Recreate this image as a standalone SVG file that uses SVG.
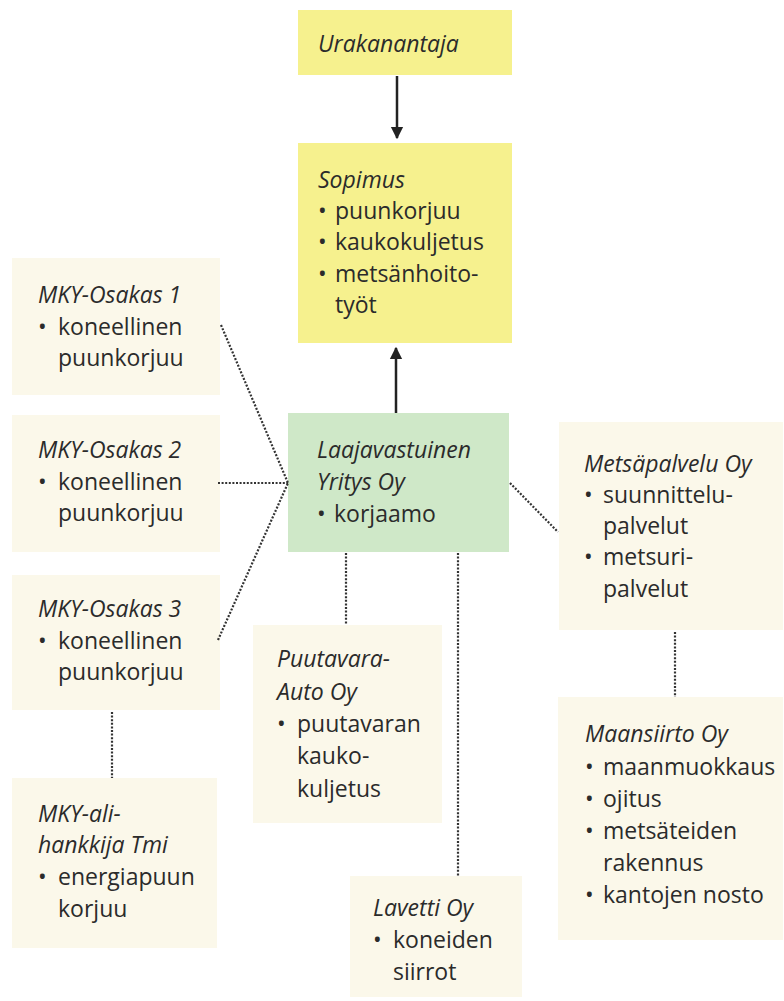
<svg xmlns="http://www.w3.org/2000/svg" width="784" height="1001" viewBox="0 0 784 1001">
<style>
  text { font-family: "Open Sans", "Liberation Sans", sans-serif; font-size: 23px; fill: #2b2b2b; }
  .t { font-style: italic; }
  .yel { fill: #f6f18e; }
  .grn { fill: #cfe8c8; }
  .bei { fill: #fbf8ea; }
  .dot { fill: none; stroke: #333; stroke-width: 2.2; stroke-dasharray: 2 1.6; }
  .arr { fill: none; stroke: #222; stroke-width: 2.5; }
</style>
<defs>
  <marker id="ah" viewBox="0 0 10 10" refX="9" refY="5" markerWidth="5" markerHeight="6" orient="auto" markerUnits="strokeWidth">
    <path d="M0,0 L10,5 L0,10 Z" fill="#222"/>
  </marker>
</defs>
<rect width="784" height="1001" fill="#ffffff"/>

<g id="urakanantaja">
  <rect class="yel" x="298" y="10" width="214" height="65"/>
  <text class="t" x="318" y="52">Urakanantaja</text>
</g>

<g id="sopimus">
  <rect class="yel" x="298" y="143" width="214" height="200"/>
  <text class="t" x="318" y="188">Sopimus</text>
  <text x="318" y="219">•</text><text x="335" y="219">puunkorjuu</text>
  <text x="318" y="250">•</text><text x="335" y="250">kaukokuljetus</text>
  <text x="318" y="282">•</text><text x="335" y="282">metsänhoito-</text>
  <text x="335" y="313">työt</text>
</g>

<g id="laajavastuinen">
  <rect class="grn" x="288" y="413" width="221" height="139"/>
  <text class="t" x="317" y="458">Laajavastuinen</text>
  <text class="t" x="317" y="490">Yritys Oy</text>
  <text x="317" y="522">•</text><text x="334" y="522">korjaamo</text>
</g>

<g id="osakas1">
  <rect class="bei" x="12" y="258" width="208" height="137"/>
  <text class="t" x="38" y="303">MKY-Osakas 1</text>
  <text x="38" y="335">•</text><text x="58" y="335">koneellinen</text>
  <text x="58" y="366">puunkorjuu</text>
</g>

<g id="osakas2">
  <rect class="bei" x="12" y="415" width="208" height="137"/>
  <text class="t" x="38" y="458">MKY-Osakas 2</text>
  <text x="38" y="490">•</text><text x="58" y="490">koneellinen</text>
  <text x="58" y="521">puunkorjuu</text>
</g>

<g id="osakas3">
  <rect class="bei" x="12" y="575" width="208" height="135"/>
  <text class="t" x="38" y="617">MKY-Osakas 3</text>
  <text x="38" y="649">•</text><text x="58" y="649">koneellinen</text>
  <text x="58" y="680">puunkorjuu</text>
</g>

<g id="alihankkija">
  <rect class="bei" x="12" y="778" width="205" height="170"/>
  <text class="t" x="38" y="822">MKY-ali-</text>
  <text class="t" x="38" y="853">hankkija Tmi</text>
  <text x="38" y="885">•</text><text x="58" y="885">energiapuun</text>
  <text x="58" y="917">korjuu</text>
</g>

<g id="puutavara">
  <rect class="bei" x="253" y="625" width="189" height="198"/>
  <text class="t" x="277" y="667">Puutavara-</text>
  <text class="t" x="277" y="700">Auto Oy</text>
  <text x="277" y="732">•</text><text x="297" y="732">puutavaran</text>
  <text x="297" y="764">kauko-</text>
  <text x="297" y="797">kuljetus</text>
</g>

<g id="lavetti">
  <rect class="bei" x="350" y="876" width="172" height="121"/>
  <text class="t" x="373" y="916">Lavetti Oy</text>
  <text x="373" y="948">•</text><text x="393" y="948">koneiden</text>
  <text x="393" y="980">siirrot</text>
</g>

<g id="metsapalvelu">
  <rect class="bei" x="559" y="422" width="224" height="208"/>
  <text class="t" x="584" y="472">Metsäpalvelu Oy</text>
  <text x="584" y="503">•</text><text x="603" y="503">suunnittelu-</text>
  <text x="603" y="534">palvelut</text>
  <text x="584" y="565">•</text><text x="603" y="565">metsuri-</text>
  <text x="603" y="597">palvelut</text>
</g>

<g id="maansiirto">
  <rect class="bei" x="558" y="697" width="225" height="243"/>
  <text class="t" x="585" y="742">Maansiirto Oy</text>
  <text x="585" y="775">•</text><text x="603" y="775">maanmuokkaus</text>
  <text x="585" y="807">•</text><text x="603" y="807">ojitus</text>
  <text x="585" y="839">•</text><text x="603" y="839">metsäteiden</text>
  <text x="603" y="871">rakennus</text>
  <text x="585" y="903">•</text><text x="603" y="903">kantojen nosto</text>
</g>

<g id="connectors">
  <line class="arr" x1="397" y1="76" x2="397" y2="138" marker-end="url(#ah)"/>
  <line class="arr" x1="396" y1="413" x2="396" y2="348" marker-end="url(#ah)"/>
  <line class="dot" x1="221" y1="325" x2="288" y2="483"/>
  <line class="dot" x1="218" y1="483" x2="288" y2="483"/>
  <line class="dot" x1="218" y1="640" x2="288" y2="483"/>
  <line class="dot" x1="112" y1="712" x2="112" y2="778"/>
  <line class="dot" x1="346" y1="553" x2="346" y2="625"/>
  <line class="dot" x1="458" y1="553" x2="458" y2="876"/>
  <line class="dot" x1="510" y1="483" x2="558" y2="532"/>
  <line class="dot" x1="675" y1="632" x2="675" y2="697"/>
</g>
</svg>
